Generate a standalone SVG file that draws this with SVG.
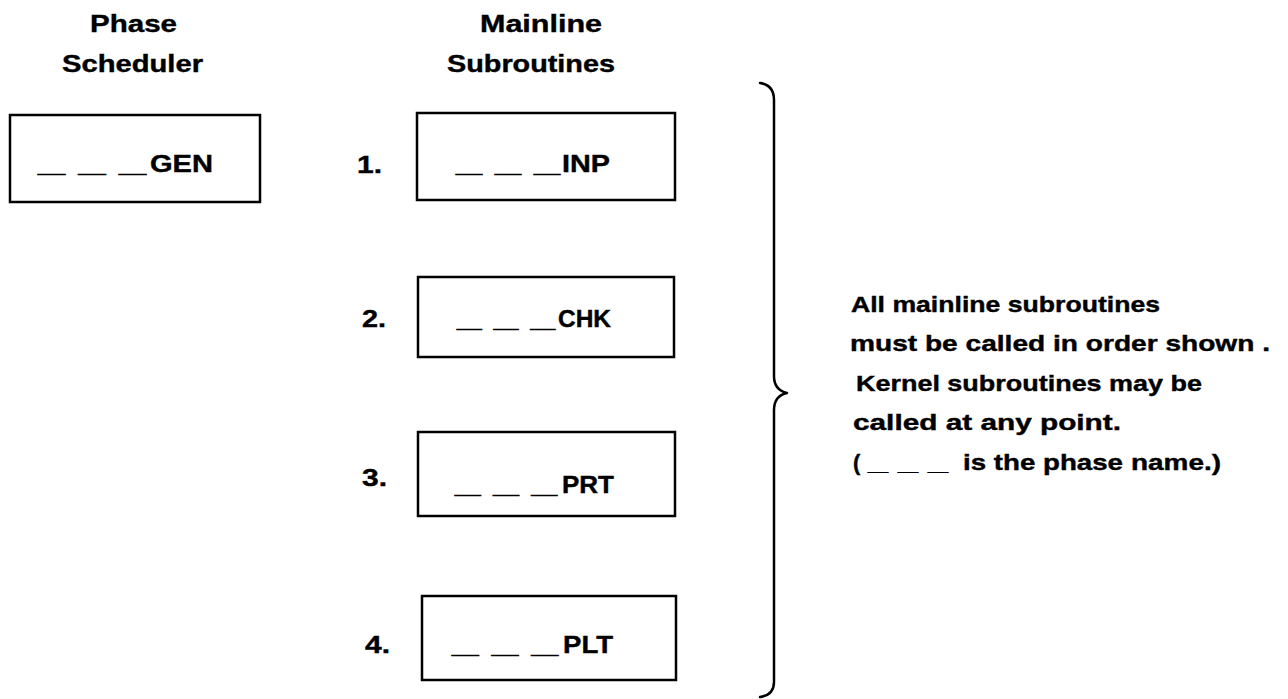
<svg xmlns="http://www.w3.org/2000/svg" width="1288" height="699" viewBox="0 0 1288 699">
  <style>
    .box { fill: #ffffff; stroke: #000000; stroke-width: 2.5; }
    .t { font-family: "Liberation Sans", Arial, sans-serif; font-weight: bold; fill: #000000; stroke: #000000; stroke-width: 0.4; }
    .head { font-size: 24px; }
    .lbl { font-size: 24px; }
    .num { font-size: 24px; }
    .note { font-size: 22px; }
    .brace { fill: none; stroke: #000000; stroke-width: 2.5; stroke-linecap: round; stroke-linejoin: round; }
  </style>
  <rect width="1288" height="699" fill="#ffffff"/>

  <!-- column headings -->
  <g id="headings">
    <text class="t head" x="90" y="32" textLength="87" lengthAdjust="spacingAndGlyphs">Phase</text>
    <text class="t head" x="62" y="72" textLength="141" lengthAdjust="spacingAndGlyphs">Scheduler</text>
    <text class="t head" x="480" y="32" textLength="122" lengthAdjust="spacingAndGlyphs">Mainline</text>
    <text class="t head" x="447" y="72" textLength="168" lengthAdjust="spacingAndGlyphs">Subroutines</text>
  </g>

  <!-- phase scheduler -->
  <g id="node-gen">
    <rect class="box" x="10" y="115" width="250" height="87"/>
    <text class="t lbl" x="38" y="172" textLength="108" lengthAdjust="spacingAndGlyphs">_ _ _</text>
    <text class="t lbl" x="150" y="172" textLength="63" lengthAdjust="spacingAndGlyphs">GEN</text>
  </g>

  <!-- mainline subroutines -->
  <g id="node-inp">
    <text class="t num" x="357" y="173" textLength="25" lengthAdjust="spacingAndGlyphs">1.</text>
    <rect class="box" x="417" y="113" width="258" height="87"/>
    <text class="t lbl" x="456" y="172" textLength="104" lengthAdjust="spacingAndGlyphs">_ _ _</text>
    <text class="t lbl" x="562" y="172" textLength="48" lengthAdjust="spacingAndGlyphs">INP</text>
  </g>

  <g id="node-chk">
    <text class="t num" x="362" y="327" textLength="24" lengthAdjust="spacingAndGlyphs">2.</text>
    <rect class="box" x="418" y="277" width="256" height="80"/>
    <text class="t lbl" x="457" y="327" textLength="98" lengthAdjust="spacingAndGlyphs">_ _ _</text>
    <text class="t lbl" x="558" y="327" textLength="53" lengthAdjust="spacingAndGlyphs">CHK</text>
  </g>

  <g id="node-prt">
    <text class="t num" x="362" y="486" textLength="25" lengthAdjust="spacingAndGlyphs">3.</text>
    <rect class="box" x="418" y="432" width="257" height="84"/>
    <text class="t lbl" x="455" y="493" textLength="102" lengthAdjust="spacingAndGlyphs">_ _ _</text>
    <text class="t lbl" x="562" y="493" textLength="52" lengthAdjust="spacingAndGlyphs">PRT</text>
  </g>

  <g id="node-plt">
    <text class="t num" x="365" y="653" textLength="25" lengthAdjust="spacingAndGlyphs">4.</text>
    <rect class="box" x="422" y="596" width="254" height="84"/>
    <text class="t lbl" x="452" y="653" textLength="106" lengthAdjust="spacingAndGlyphs">_ _ _</text>
    <text class="t lbl" x="563" y="653" textLength="50" lengthAdjust="spacingAndGlyphs">PLT</text>
  </g>

  <!-- brace grouping the mainline calls -->
  <g id="connectors">
    <path class="brace" d="M760 83 Q774 85 774 100 L774 376 Q774 390 787 393 Q774 396 774 410 L774 682 Q774 695 760 697"/>
  </g>

  <!-- explanatory note -->
  <g id="note">
    <text class="t note" x="851" y="312" textLength="309" lengthAdjust="spacingAndGlyphs">All mainline subroutines</text>
    <text class="t note" x="850" y="351" textLength="420" lengthAdjust="spacingAndGlyphs">must be called in order shown .</text>
    <text class="t note" x="856" y="391" textLength="346" lengthAdjust="spacingAndGlyphs">Kernel subroutines may be</text>
    <text class="t note" x="853" y="430" textLength="268" lengthAdjust="spacingAndGlyphs">called at any point.</text>
    <text class="t note" x="853" y="470">(</text>
    <text class="t note" x="868" y="470" textLength="80" lengthAdjust="spacingAndGlyphs">_ _ _</text>
    <text class="t note" x="963" y="470" textLength="160" lengthAdjust="spacingAndGlyphs">is the phase</text>
    <text class="t note" x="1131" y="470" textLength="90" lengthAdjust="spacingAndGlyphs">name.)</text>
  </g>
</svg>
